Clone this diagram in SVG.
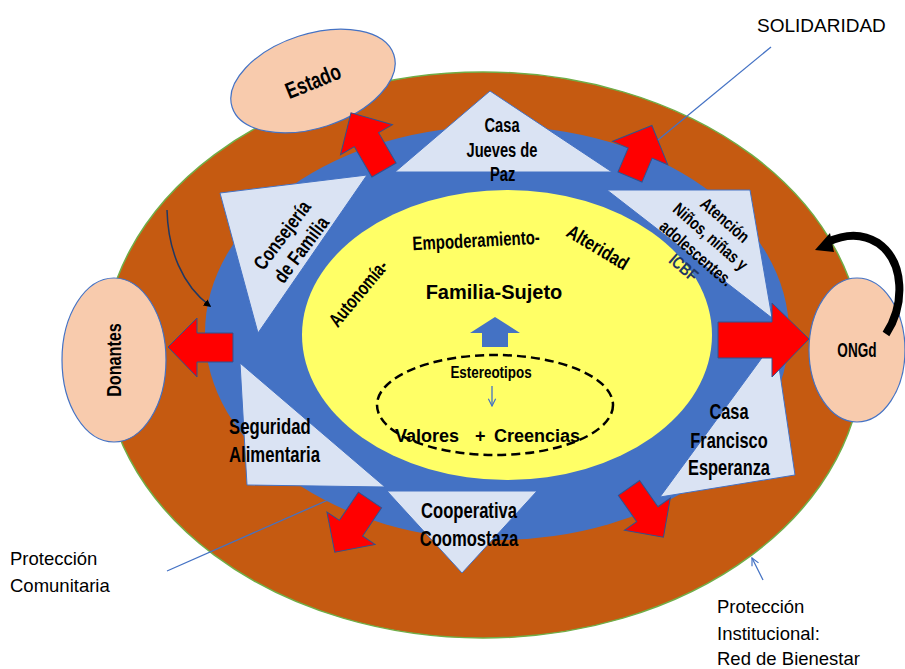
<svg xmlns="http://www.w3.org/2000/svg" width="905" height="669" viewBox="0 0 905 669">
<defs>
<style>
.tri{fill:#dae3f3;stroke:#4472c4;stroke-width:1}
.red{fill:#ff0000;stroke:#2f528f;stroke-width:1}
.peach{fill:#f8cbad;stroke:#4472c4;stroke-width:1.2}
.c{font-family:"Liberation Sans","Noto Sans",sans-serif;font-weight:bold;fill:#000;text-anchor:middle}
.n{font-family:"Liberation Sans","Noto Sans",sans-serif;fill:#000}
.b{font-family:"Liberation Sans","Noto Sans",sans-serif;font-weight:bold;fill:#000}
.lead{fill:none;stroke:#4472c4;stroke-width:1.3}
</style>
<marker id="blk" viewBox="0 0 10 10" refX="8" refY="5" markerWidth="5" markerHeight="5" orient="auto" markerUnits="strokeWidth">
<path d="M0,0 L10,5 L0,10 Z" fill="#000"/>
</marker>
<marker id="open" viewBox="0 0 10 10" refX="9" refY="5" markerWidth="7" markerHeight="7" orient="auto">
<path d="M1,1 L9,5 L1,9" fill="none" stroke="#4472c4" stroke-width="1.3"/>
</marker>
</defs>

<rect width="905" height="669" fill="#fff"/>

<g id="outer-ring">
<ellipse cx="483" cy="355" rx="380" ry="283" fill="#c55a11" stroke="#70ad47" stroke-width="1.5"/>
</g>
<g id="middle-ring">
<ellipse cx="497" cy="333" rx="292" ry="207" fill="#4472c4"/>
</g>
<g id="core">
<ellipse cx="507" cy="335" rx="205" ry="145" fill="#ffff66"/>
<ellipse cx="495" cy="405" rx="118" ry="50" fill="none" stroke="#000" stroke-width="2.5" stroke-dasharray="9,5"/>
<path d="M470,333 L495,317 L520,333 L508,333 L508,347 L482,347 L482,333 Z" fill="#4472c4"/>
<line x1="492" y1="386" x2="492" y2="406" class="lead" marker-end="url(#open)"/>
<text class="b" x="494" y="299" font-size="20" text-anchor="middle">Familia-Sujeto</text>
<text class="c" font-size="17" transform="translate(491,378) scale(0.79,1)">Estereotipos</text>
<text class="b" font-size="18" y="442"><tspan x="395">Valores</tspan><tspan x="475">+</tspan><tspan x="494">Creencias</tspan></text>
<text class="c" font-size="19.5" transform="translate(358,293) rotate(-50) scale(0.74,1)" y="7">Autonomía-</text>
<text class="c" font-size="19.5" transform="translate(476,240) rotate(-3) scale(0.77,1)" y="7">Empoderamiento-</text>
<text class="c" font-size="19.5" transform="translate(598,247) rotate(31) scale(0.81,1)" y="7">Alteridad</text>
</g>

<g id="jueves">
<polygon class="tri" points="490,91 395,172 612,172"/>
<text class="c" font-size="21" transform="translate(502,0) scale(0.70,1)"><tspan x="0" y="132">Casa</tspan><tspan x="0" y="157">Jueves de</tspan><tspan x="1" y="181">Paz</tspan></text>
</g>
<g id="consejeria">
<polygon class="tri" points="220,193 367,175 258,333"/>
<text class="c" font-size="20" transform="translate(282,235) rotate(-53) scale(0.79,1)"><tspan x="0" y="7">Consejería</tspan><tspan x="0" y="31">de Familia</tspan></text>
</g>
<g id="atencion">
<polygon class="tri" points="607,190 750,190 772,318"/>
<text class="c" font-size="17.5" transform="translate(725,220) rotate(41) scale(0.78,1)"><tspan x="0" y="6">Atención</tspan><tspan x="0" y="28">Niños, niñas y</tspan><tspan x="0" y="50">adolescentes.</tspan><tspan x="0" y="69" fill="#1f3864">ICBF</tspan></text>
</g>
<g id="francisco">
<polygon class="tri" points="775,340 795,475 660,497"/>
<text class="c" font-size="22" transform="translate(729,0) scale(0.745,1)"><tspan x="0" y="419">Casa</tspan><tspan x="0" y="448">Francisco</tspan><tspan x="0" y="475">Esperanza</tspan></text>
</g>
<g id="cooperativa">
<polygon class="tri" points="387,491 537,491 462,573"/>
<text class="c" font-size="22" transform="translate(469,0) scale(0.755,1)"><tspan x="0" y="518">Cooperativa</tspan><tspan x="0" y="546">Coomostaza</tspan></text>
</g>
<g id="seguridad">
<polygon class="tri" points="240,363 247,485 385,487"/>
<text class="c" font-size="22" style="text-anchor:start" transform="translate(229,0) scale(0.76,1)"><tspan x="0" y="434">Seguridad</tspan><tspan x="0" y="462">Alimentaria</tspan></text>
</g>

<g id="estado">
<ellipse class="peach" cx="313" cy="81" rx="85" ry="47" transform="rotate(-18 313 81)"/>
<text class="c" font-size="23" transform="translate(313,81) rotate(-22) scale(0.75,1)" y="8">Estado</text>
</g>
<g id="donantes">
<ellipse class="peach" cx="114" cy="360" rx="52" ry="82"/>
<text class="c" font-size="21" transform="translate(113,360) rotate(-90) scale(0.77,1)" y="8">Donantes</text>
</g>
<g id="ongd">
<ellipse class="peach" cx="857" cy="350" rx="48" ry="72"/>
<text class="c" font-size="20" transform="translate(857,357) scale(0.68,1)">ONGd</text>
</g>

<g id="connectors">
<path class="red" transform="translate(384,170) rotate(-120)" d="M0,-14 L35,-14 L35,-30 L66,0 L35,30 L35,14 L0,14 Z"/>
<path class="red" transform="translate(630,177) rotate(-67)" d="M0,-13 L26,-13 L26,-30 L56,0 L26,30 L26,13 L0,13 Z"/>
<path class="red" d="M718,322 L772,322 L772,303 L809,339 L772,377 L772,358 L718,358 Z"/>
<path class="red" d="M233,333 L197,333 L197,318 L168,347 L197,377 L197,362 L233,362 Z"/>
<path class="red" transform="translate(370,500) rotate(124)" d="M0,-14 L34,-14 L34,-29 L63,0 L34,29 L34,14 L0,14 Z"/>
<path class="red" transform="translate(629,488) rotate(55)" d="M0,-13 L32,-13 L32,-28 L60,0 L32,28 L32,13 L0,13 Z"/>
<path d="M167,210 C168,250 182,285 210,306" fill="none" stroke="#1f3864" stroke-width="1.5" marker-end="url(#blk)"/>
<path d="M886,334 C905,305 905,262 878,243 C862,233 845,234 828,242" fill="none" stroke="#000" stroke-width="8"/>
<path d="M815,250 L830,233 L834,252 Z" fill="#000"/>
<line class="lead" x1="771" y1="47" x2="658" y2="140"/>
<line class="lead" x1="167" y1="571" x2="328" y2="500"/>
<line class="lead" x1="763" y1="580" x2="752" y2="558" marker-end="url(#open)"/>
</g>

<g id="labels">
<text class="n" font-size="19" x="757" y="32">SOLIDARIDAD</text>
<text class="n" font-size="18.5"><tspan x="10" y="565">Protección</tspan><tspan x="10" y="592">Comunitaria</tspan></text>
<text class="n" font-size="18.5"><tspan x="717" y="613">Protección</tspan><tspan x="717" y="640">Institucional:</tspan><tspan x="717" y="665">Red de Bienestar</tspan></text>
</g>
</svg>
